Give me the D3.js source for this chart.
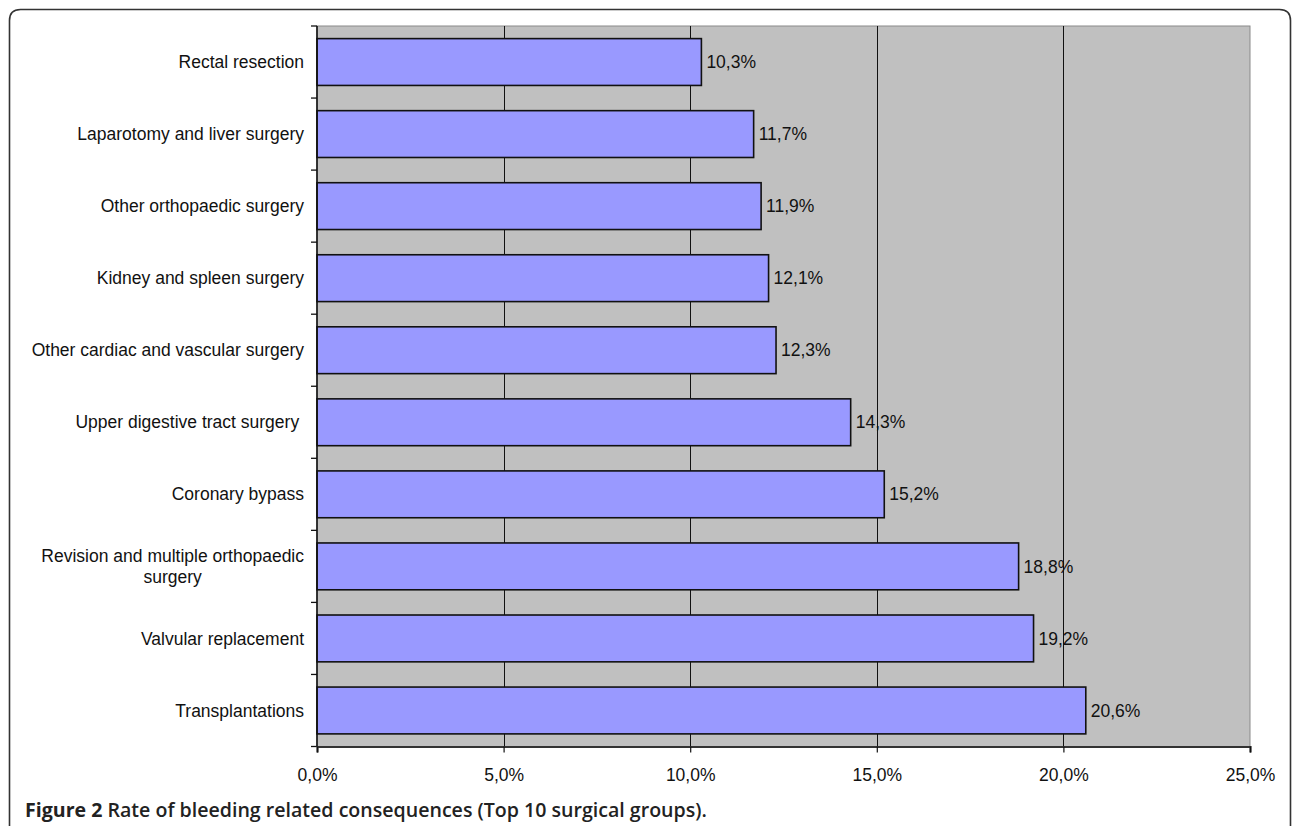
<!DOCTYPE html>
<html>
<head>
<meta charset="utf-8">
<script src="https://cdn.jsdelivr.net/npm/d3@7"></script>
<style>
  html, body { margin: 0; padding: 0; background: #fff; }
  svg { display: block; }
  text { font-family: "Liberation Sans", Arial, sans-serif; fill: #111; white-space: pre; }
</style>
</head>
<body>
<svg id="chart" width="1292" height="826"></svg>
<script>
// Surgical groups, top to bottom
const categories = [
  "Rectal resection",
  "Laparotomy and liver surgery",
  "Other orthopaedic surgery",
  "Kidney and spleen surgery",
  "Other cardiac and vascular surgery",
  "Upper digestive tract surgery ",
  "Coronary bypass",
  "Revision and multiple orthopaedic surgery",
  "Valvular replacement",
  "Transplantations"
];
// Rate of bleeding related consequences (fraction)
const rates = [0.103, 0.117, 0.119, 0.121, 0.123, 0.143, 0.152, 0.188, 0.192, 0.206];
// X axis ticks
const xTicks = [0, 0.05, 0.10, 0.15, 0.20, 0.25];
const captionBold = "Figure 2";
const captionText = " Rate of bleeding related consequences (Top 10 surgical groups).";

const svg = d3.select("#chart");
const plot = { left: 317, right: 1250, top: 26, bottom: 746.5 };
const fontSize = "17.5px";

const locale = d3.formatLocale({ decimal: ",", thousands: ".", grouping: [3], currency: ["", "€"] });
const pct = locale.format(".1%");

const x = d3.scaleLinear().domain([0, 0.25]).range([plot.left, plot.right]);
const y = d3.scaleBand().domain(categories).range([plot.top, plot.bottom])
  .paddingInner(0.35).paddingOuter(0.175);

// Outer frame with rounded top corners
const r = 11, fl = 9.5, ft = 9.5, fr = 1290.5;
svg.append("path")
  .attr("d", `M${fl},826 L${fl},${ft + r} Q${fl},${ft} ${fl + r},${ft} L${fr - r},${ft} Q${fr},${ft} ${fr},${ft + r} L${fr},826`)
  .attr("fill", "none").attr("stroke", "#333").attr("stroke-width", 1.6);

// Plot background
svg.append("rect")
  .attr("x", plot.left).attr("y", plot.top)
  .attr("width", plot.right - plot.left).attr("height", plot.bottom - plot.top)
  .attr("fill", "#c0c0c0").attr("stroke", "#8a8a8a").attr("stroke-width", 1);

// Vertical gridlines
svg.append("g").selectAll("line")
  .data(xTicks.filter(d => d > 0 && d < 0.25))
  .join("line")
  .attr("x1", d => Math.round(x(d)) + 0.5).attr("x2", d => Math.round(x(d)) + 0.5)
  .attr("y1", plot.top).attr("y2", plot.bottom)
  .attr("stroke", "#111").attr("stroke-width", 1);

// Bars
svg.append("g").selectAll("rect")
  .data(categories)
  .join("rect")
  .attr("x", x(0))
  .attr("y", d => y(d))
  .attr("width", (d, i) => x(rates[i]) - x(0))
  .attr("height", y.bandwidth())
  .attr("fill", "#9999ff")
  .attr("stroke", "#111").attr("stroke-width", 1.6);

// Value labels
svg.append("g").selectAll("text")
  .data(categories)
  .join("text")
  .attr("x", (d, i) => x(rates[i]) + 5)
  .attr("y", d => y(d) + y.bandwidth() / 2)
  .attr("dy", "0.35em")
  .style("font-size", fontSize)
  .text((d, i) => pct(rates[i]));

// Left axis line and ticks at category boundaries
const step = y.step();
const boundaries = d3.range(categories.length + 1).map(i => plot.top + i * step);
svg.append("line")
  .attr("x1", plot.left).attr("x2", plot.left)
  .attr("y1", plot.top).attr("y2", plot.bottom)
  .attr("stroke", "#111").attr("stroke-width", 1.6);
svg.append("g").selectAll("line")
  .data(boundaries)
  .join("line")
  .attr("x1", plot.left - 6).attr("x2", plot.left)
  .attr("y1", d => d).attr("y2", d => d)
  .attr("stroke", "#111").attr("stroke-width", 1.3);

// Bottom axis
const xAxis = d3.axisBottom(x).tickValues(xTicks).tickFormat(pct).tickSize(6).tickPadding(16);
const gx = svg.append("g").attr("transform", `translate(0,${plot.bottom})`).call(xAxis);
gx.select(".domain").attr("stroke", "#333").attr("stroke-width", 2.2);
gx.selectAll(".tick line").attr("stroke", "#111").attr("stroke-width", 1.2);
gx.selectAll(".tick text")
  .style("font-family", "'Liberation Sans', Arial, sans-serif")
  .style("font-size", fontSize).attr("fill", "#111");

// Category labels (right aligned, wrapped labels centered as a block)
const labelRight = 304;
const wrapped = { "Revision and multiple orthopaedic surgery": ["Revision and multiple orthopaedic", "surgery"] };
const lg = svg.append("g");
categories.forEach(c => {
  const cy = y(c) + y.bandwidth() / 2;
  const lines = wrapped[c];
  if (!lines) {
    lg.append("text")
      .attr("x", labelRight).attr("y", cy).attr("dy", "0.35em")
      .attr("text-anchor", "end")
      .style("font-size", fontSize)
      .text(c);
  } else {
    const t = lg.append("text").style("font-size", fontSize).attr("text-anchor", "middle");
    const lh = 21.7;
    const spans = lines.map(l => t.append("tspan").text(l));
    const w = d3.max(spans, s => s.node().getComputedTextLength());
    const cx = labelRight - w / 2;
    spans.forEach((s, k) => s.attr("x", cx).attr("y", cy + (k - (lines.length - 1) / 2) * lh).attr("dy", "0.35em"));
  }
});

// Caption
const cap = svg.append("text")
  .attr("x", 25).attr("y", 817)
  .style("font-family", "'Open Sans', 'Noto Sans', sans-serif")
  .style("font-size", "19px")
  .style("fill", "#222");
cap.append("tspan").style("font-weight", 700).text(captionBold);
cap.append("tspan").style("font-weight", 600).text(captionText);
const targetW = 682;
const w0 = cap.node().getComputedTextLength();
cap.style("font-size", (19 * targetW / w0).toFixed(2) + "px");
</script>
</body>
</html>
